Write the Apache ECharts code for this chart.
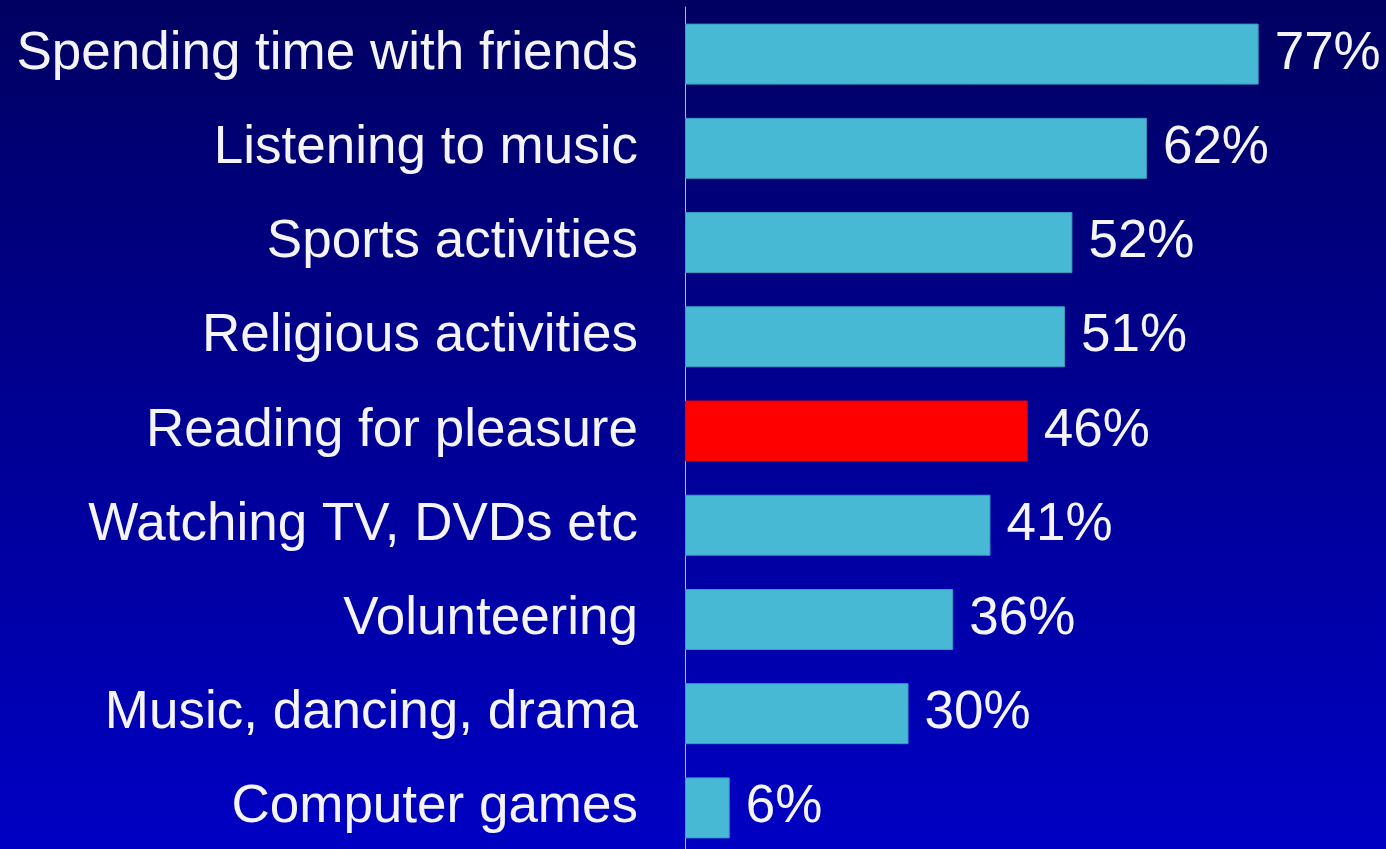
<!DOCTYPE html>
<html>
<head>
<meta charset="utf-8">
<script src="https://cdn.jsdelivr.net/npm/echarts@6/dist/echarts.min.js"></script>
<style>
  html, body { margin: 0; padding: 0; }
  #chart { width: 1386px; height: 849px; }
</style>
</head>
<body>
<div id="chart"></div>
<script>
// Activities, top to bottom
const categories = [
  'Spending time with friends',
  'Listening to music',
  'Sports activities',
  'Religious activities',
  'Reading for pleasure',
  'Watching TV, DVDs etc',
  'Volunteering',
  'Music, dancing, drama',
  'Computer games'
];
// Share of respondents (%)
const values = [77, 62, 52, 51, 46, 41, 36, 30, 6];
// The activity picked out in red
const highlighted = 'Reading for pleasure';

const BAR = '#48b9d5';
const HIGHLIGHT = '#ff0000';
const FONT = 'Liberation Sans, Arial, sans-serif';

const chart = echarts.init(document.getElementById('chart'));

chart.setOption({
  animation: false,
  backgroundColor: new echarts.graphic.LinearGradient(0, 0, 0, 1, [
    { offset: 0, color: '#000062' },
    { offset: 0.5, color: '#000094' },
    { offset: 1, color: '#0000c4' }
  ]),
  grid: {
    left: 685,
    top: 7,
    width: 596,
    height: 848,
    outerBoundsMode: 'none',
    containLabel: false
  },
  xAxis: {
    type: 'value',
    min: 0,
    max: 80,
    show: false
  },
  yAxis: {
    type: 'category',
    inverse: true,
    offset: 1,
    data: categories,
    axisLine: { show: true, lineStyle: { color: '#b8b8dc', width: 1 } },
    axisTick: { show: false },
    splitLine: { show: false },
    axisLabel: {
      color: '#f4f4f8',
      fontFamily: FONT,
      fontSize: 53,
      margin: 46,
      padding: [7, 0, 0, 0]
    }
  },
  series: [{
    type: 'bar',
    barWidth: 61,
    data: values.map((v, i) => ({
      value: v,
      itemStyle: {
        color: categories[i] === highlighted ? HIGHLIGHT : BAR,
        borderColor: categories[i] === highlighted ? '#e00010' : '#3a9cc4',
        borderWidth: 1
      }
    })),
    label: {
      show: true,
      position: 'right',
      distance: 16,
      formatter: p => p.value + '%',
      color: '#f4f4f8',
      fontFamily: FONT,
      fontSize: 53,
      padding: [7, 0, 0, 0]
    }
  }]
});
</script>
</body>
</html>
